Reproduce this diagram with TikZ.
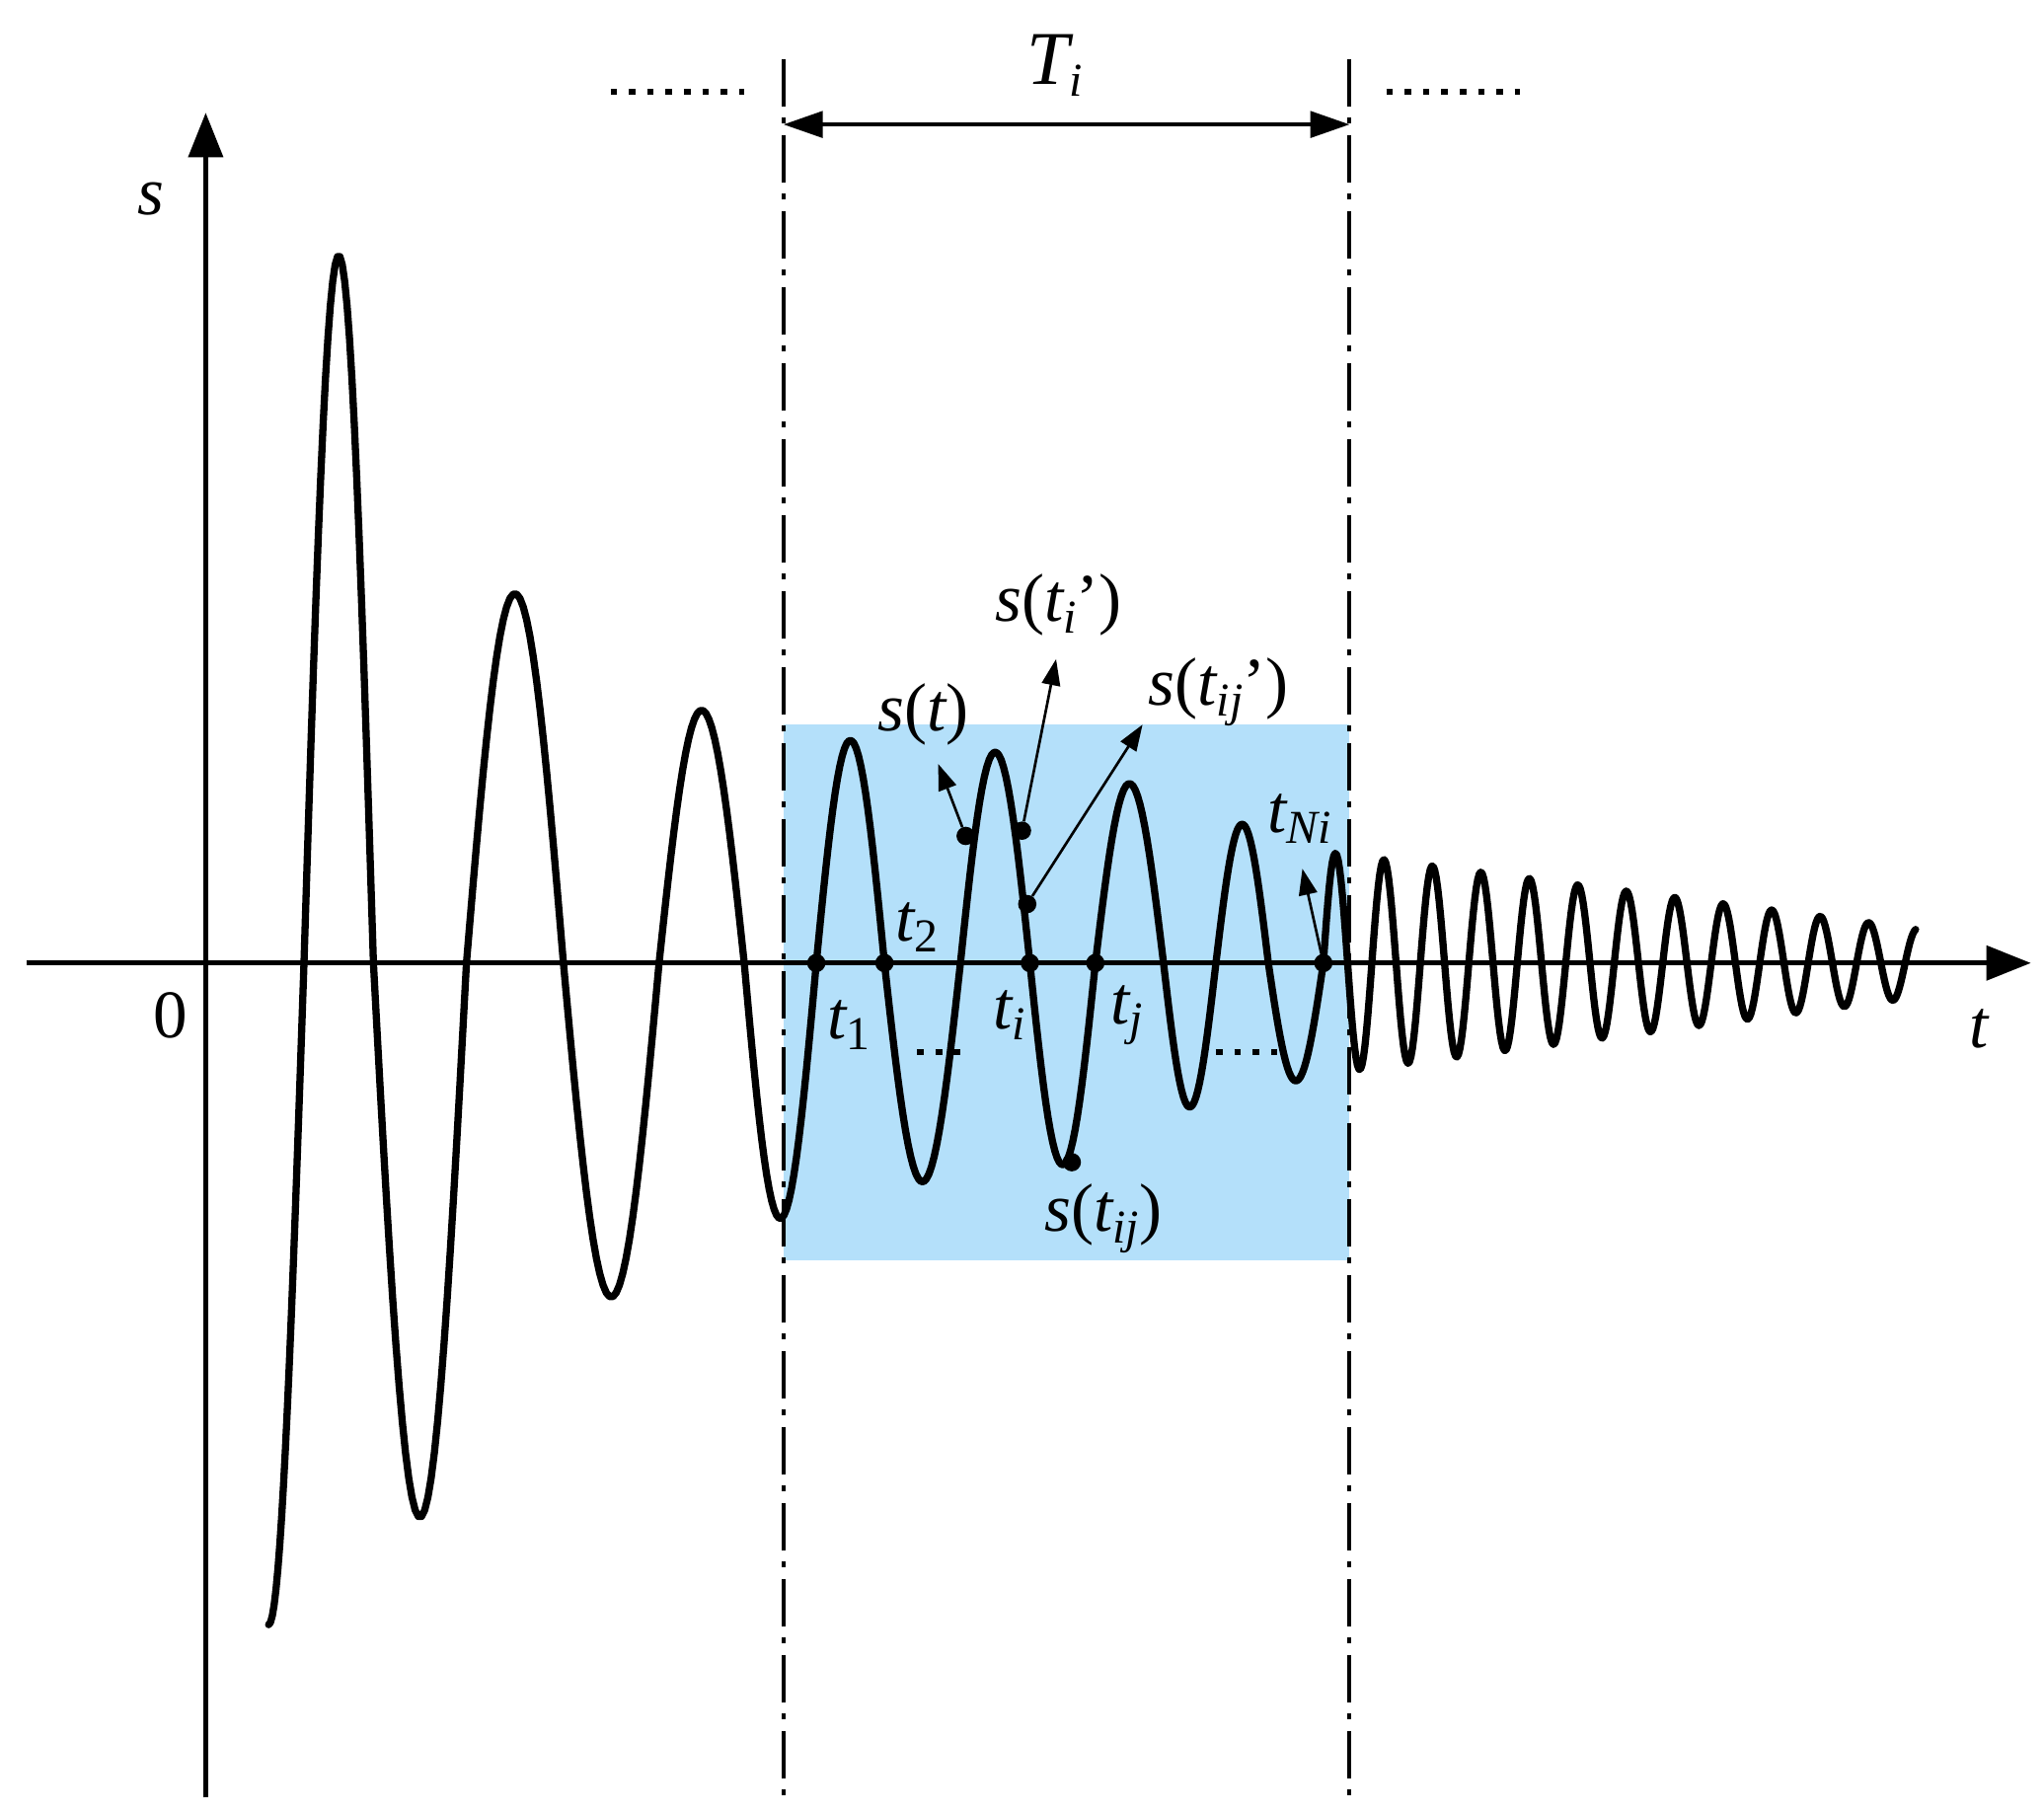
\documentclass[tikz,border=0pt]{standalone}
\usepackage{fontspec}
\setmainfont{Liberation Serif}
\usetikzlibrary{arrows.meta}
\newcommand\sbs[1]{\raisebox{-0.35ex}{\fontsize{36}{38}\selectfont #1}}
\begin{document}
\begin{tikzpicture}[x=1pt,y=-1pt,
  wave/.style={line width=5.5pt,line cap=round,line join=round},
  ax/.style={line width=4pt,-{Triangle[length=34pt,width=26pt]}},
  dd/.style={line width=3pt,dash pattern=on 36pt off 9pt on 4pt off 9pt},
  dot/.style={circle,fill=black,inner sep=0pt,minimum size=14pt},
  lab/.style={font=\fontsize{52}{54}\selectfont\itshape,inner sep=0pt},
  pt/.style={line width=2pt,-{Triangle[length=20pt,width=14pt]}},
  dots/.style={line width=5pt,dash pattern=on 5pt off 9pt}]
\useasboundingbox (0,0) rectangle (1560,1384);
\fill[fill={rgb,255:red,180;green,224;blue,250}] (598,553) rectangle (1030,962);
% axes
\coordinate (xs) at (20,735); \coordinate (xe) at (1550,735);
\coordinate (ys) at (157,1372); \coordinate (ye) at (157,86);
\draw[ax] (xs) -- (xe);
\draw[ax] (ys) -- (ye);
\node[lab] (s) at (115,152) {s};
\node[lab] (t) at (1510,785) {t};
\node[lab,font=\fontsize{52}{54}\selectfont] (zero) at (130,775) {0};
% window lines
\coordinate (l1) at (598,45); \coordinate (l2) at (598,1372);
\coordinate (r1) at (1030,45); \coordinate (r2) at (1030,1372);
\draw[dd] (l1) -- (l2);
\draw[dd] (r1) -- (r2);
\coordinate (a1) at (598,95); \coordinate (a2) at (1030,95);
\draw[line width=3pt,{Triangle[length=30pt,width=20pt]}-{Triangle[length=30pt,width=20pt]}] (a1) -- (a2);
\node[lab,font=\fontsize{58}{60}\selectfont\itshape] (Ti) at (805,50) {T\sbs{i}};
\coordinate (d1) at (466,70); \coordinate (d2) at (568,70);
\coordinate (d3) at (1058,70); \coordinate (d4) at (1160,70);
\draw[dots] (d1) -- (d2); \draw[dots] (d3) -- (d4);
% wave
\draw[wave] plot[domain=90:180,samples=20] ({178+54*\x/180},{735+505*sin(\x)});
\foreach \a/\b/\A in {232/285/540,285/356/-423,356/430/282,430/503/-255,503/568/193,568/623/-195,
  623/675/170,675/733/-167,733/786/161,786/836/-154,836/888/137,888/928/-110,928/968/106,968/1010/-90}
  \draw[wave] plot[domain=0:180,samples=30] ({\a+(\b-\a)*\x/180},{735-\A*sin(\x)});
\draw[wave] plot[domain=0:452,samples=400] ({1010+\x},{735-(85-\x*0.13)*sin(\x*9.7297)});
% points
\node[dot] (t1) at (623,735) {}; \node[dot] (t2) at (675,735) {};
\node[dot] (ti) at (786,735) {}; \node[dot] (tj) at (836,735) {};
\node[dot] (tN) at (1010,735) {};
\node[dot] (p1) at (737,638) {}; \node[dot] (p2) at (780,634) {};
\node[dot] (p3) at (784,690) {}; \node[dot] (p4) at (818,887) {};
% labels
\node[lab] (lt1) at (648,782) {t\sbs{\upshape 1}};
\node[lab] (lt2) at (700,708) {t\sbs{\upshape 2}};
\node[lab] (lti) at (770,775) {t\sbs{i}};
\node[lab] (ltj) at (860,775) {t\sbs{j}};
\node[lab] (lst) at (705,545) {s{\upshape (}t{\upshape )}};
\node[lab] (lsti) at (808,462) {s{\upshape (}t\sbs{i}{\upshape ')}};
\node[lab] (lstij) at (930,528) {s{\upshape (}t\sbs{ij}{\upshape ')}};
\node[lab] (lsij) at (842,930) {s{\upshape (}t\sbs{ij}{\upshape )}};
\node[lab] (ltN) at (992,625) {t\sbs{Ni}};
\coordinate (e1) at (716,583); \coordinate (e2) at (806,503);
\coordinate (e3) at (872,553); \coordinate (e4) at (994,663);
\draw[pt] (p1) -- (e1);
\draw[pt] (p2) -- (e2);
\draw[pt] (p3) -- (e3);
\draw[pt] (tN) -- (e4);
\coordinate (m1) at (700,803); \coordinate (m2) at (737,803);
\coordinate (m3) at (928,803); \coordinate (m4) at (975,803);
\draw[dots] (m1) -- (m2); \draw[dots] (m3) -- (m4);
\end{tikzpicture}
\end{document}
